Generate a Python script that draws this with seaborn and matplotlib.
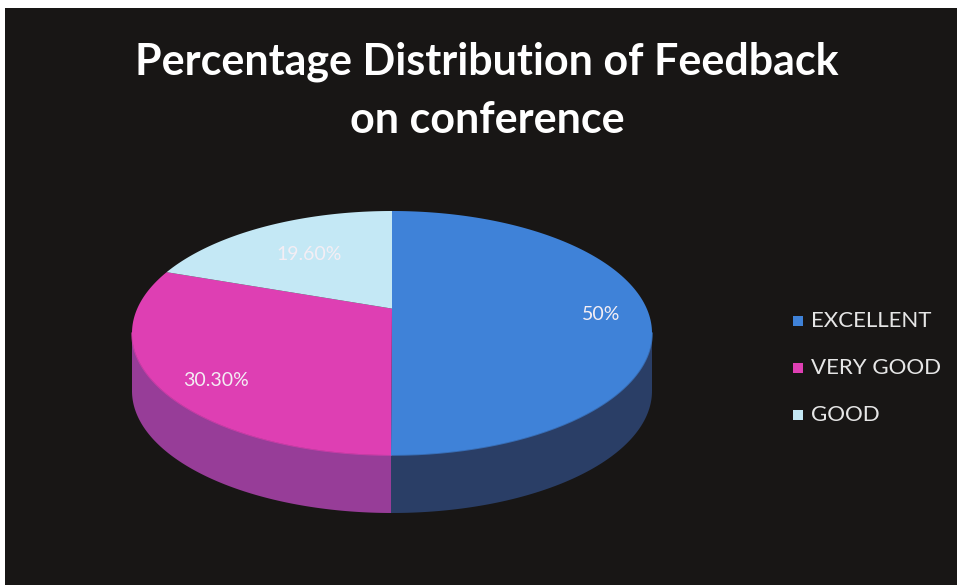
import numpy as np
import matplotlib
matplotlib.use("Agg")
import matplotlib.pyplot as plt
import seaborn as sns

# data
categories = ["EXCELLENT", "VERY GOOD", "GOOD"]
shares = [50.0, 30.3, 19.6]
label_texts = ["50%", "30.30%", "19.60%"]

# colours
top_cols = sns.color_palette(["#3f82d8", "#de3fb3", "#c4e8f5"])
side_cols = sns.color_palette(["#2a3e66", "#973d98", "#8aa9c4"])

sns.set_theme(style="dark")
plt.rcParams['font.family'] = ['Lato', 'DejaVu Sans']

fig = plt.figure(figsize=(9.57, 5.85), dpi=100, facecolor="white")
ax = fig.add_axes([0, 0, 1, 1])
ax.set_xlim(0, 957)
ax.set_ylim(585, 0)
ax.axis("off")

# black panel
bg = fig.add_axes([5 / 957, 0, 952 / 957, 577 / 585], zorder=-1)
bg.set_facecolor("#181615")
bg.set_xticks([])
bg.set_yticks([])
for s in bg.spines.values():
    s.set_visible(False)

# pie geometry (pixels) with a little perspective (k)
cx, top_y, bot_y, half_w, depth, k = 392, 211, 455, 260, 58, 0.2
R = (bot_y - top_y) / 2 * (1 - k ** 2)
cy = top_y + R / (1 + k)
rx = half_w * np.sqrt(1 - k ** 2)


def proj(u, v):
    # unit disc -> screen, far side (v>0) shrunk
    return cx + rx * u / (1 + k * v), cy - R * v / (1 + k * v)


def arc(t0, t1, n=150):
    t = np.radians(np.linspace(t0, t1, n))
    return proj(np.cos(t), np.sin(t))


vals = np.array(shares) / np.sum(shares)
cum = np.concatenate([[0], np.cumsum(vals)])
starts = 90 - cum[:-1] * 360
ends = 90 - cum[1:] * 360

# visible side wall range (between silhouette points)
edge = np.degrees(np.arcsin(k))
front_hi, front_lo = -edge, -180 + edge

for i in range(len(vals)):
    a0 = min(starts[i], front_hi)
    a1 = max(ends[i], front_lo)
    if a0 <= a1:
        continue
    x, y = arc(a0, a1)
    xs = np.concatenate([x, x[::-1]])
    ys = np.concatenate([y, y[::-1] + depth])
    ax.fill(xs, ys, color=side_cols[i], lw=0, zorder=1)
    ax.plot(x, y, color=top_cols[i], lw=1.2, alpha=0.7, zorder=1.5)

# top faces
cx0, cy0 = proj(0, 0)
for i in range(len(vals)):
    x, y = arc(starts[i], ends[i])
    ax.fill(np.concatenate([[cx0], x]), np.concatenate([[cy0], y]),
            color=top_cols[i], lw=0, zorder=2)

# data labels
label_r = [0.82, 0.77, 0.62]
label_dy = [6, 15, 0]
for i, txt in enumerate(label_texts):
    mid = np.radians((starts[i] + ends[i]) / 2)
    lx, ly = proj(label_r[i] * np.cos(mid), label_r[i] * np.sin(mid))
    ax.text(lx, ly + label_dy[i], txt, color="#f4eef4", fontsize=14,
            ha="center", va="center", zorder=3)

# title
ax.text(487, 62, "Percentage Distribution of Feedback", color="white", fontsize=31,
        fontweight="bold", ha="center", va="center")
ax.text(487, 120, "on conference", color="white", fontsize=31,
        fontweight="bold", ha="center", va="center")

# legend
for i, cat in enumerate(categories):
    ly = 321 + 47 * i
    ax.scatter([798], [ly], marker="s", s=55, color=top_cols[i], edgecolor="none", zorder=3)
    ax.text(811, ly, cat, color="#e6e6e6", fontsize=16, ha="left", va="center")

fig.savefig("out.png", dpi=100, facecolor="white")
